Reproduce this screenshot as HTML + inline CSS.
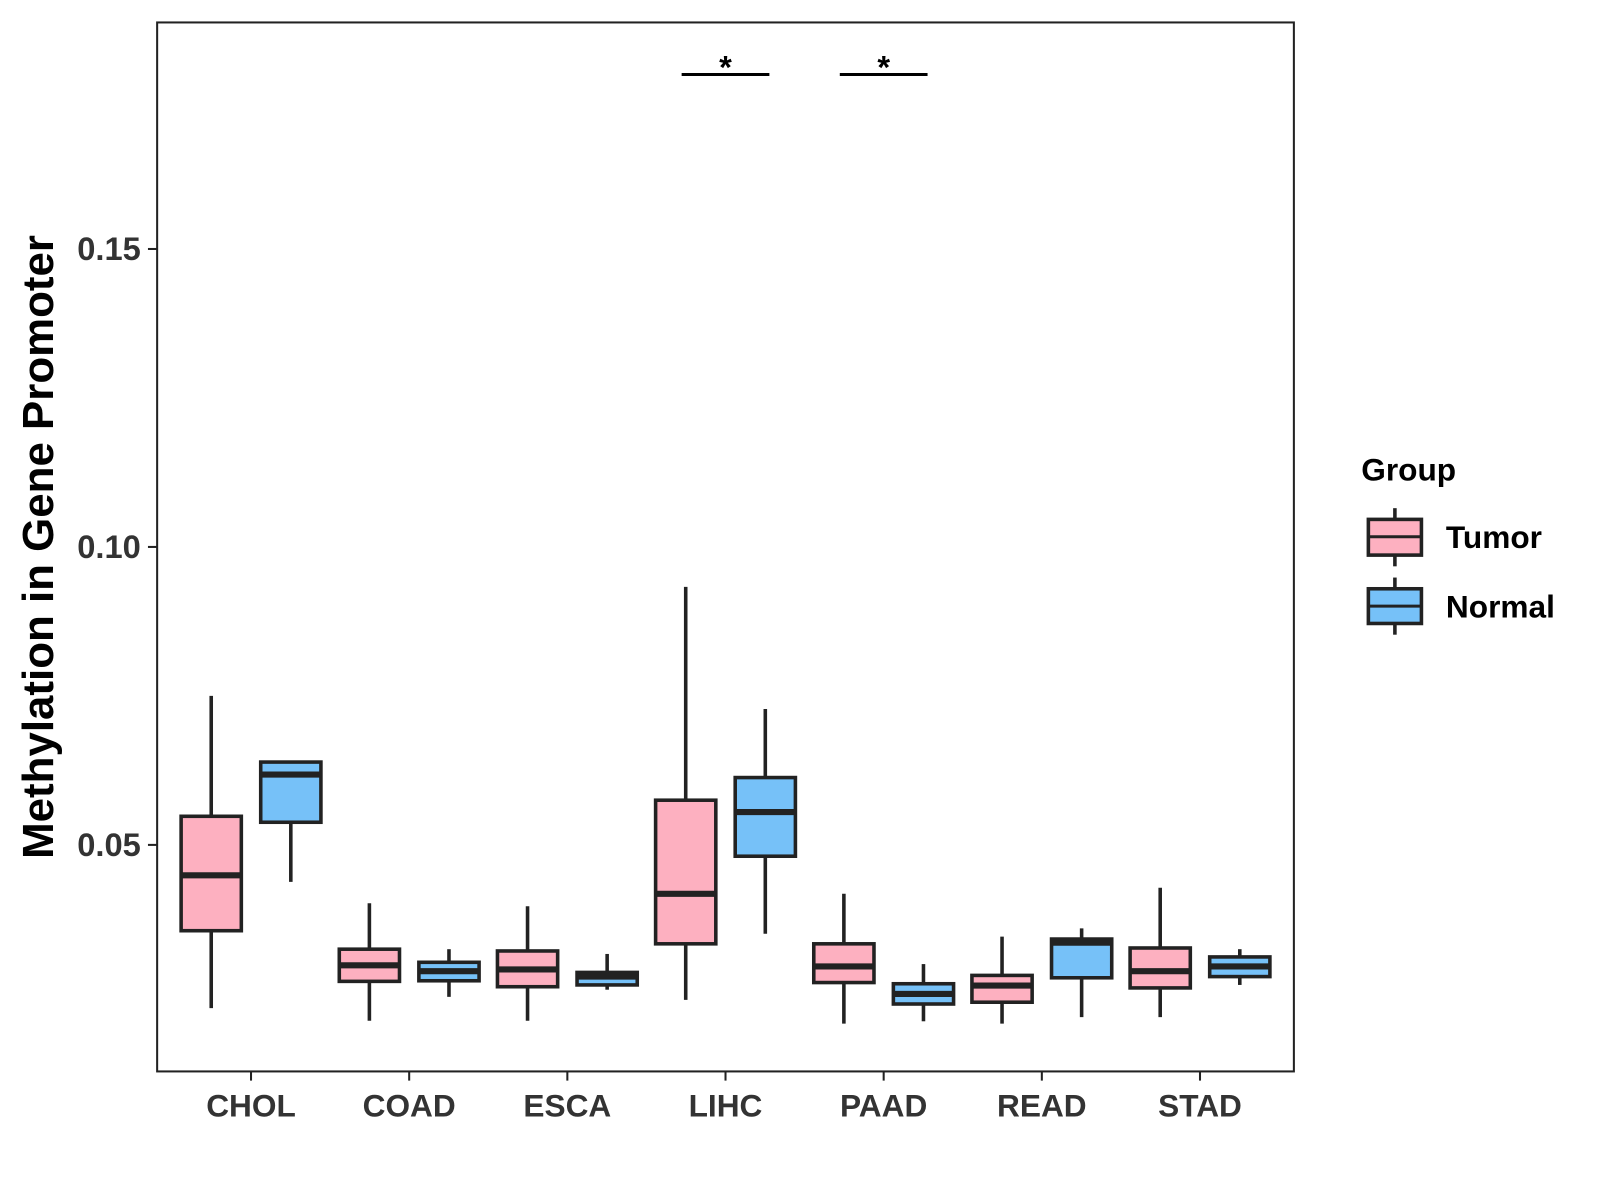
<!DOCTYPE html>
<html><head><meta charset="utf-8"><style>
body{margin:0;background:#fff;}
svg{display:block;font-family:"Liberation Sans",Arial,sans-serif;font-weight:bold;}
</style></head><body>
<svg id="chart" width="1600" height="1200" viewBox="0 0 1568 1176">
<rect x="0" y="0" width="1568" height="1176" fill="#fff"/>
<g id="marks"></g>
<rect x="154" y="22" width="1114" height="1028" fill="none" stroke="#222" stroke-width="2"/>
<g id="axes"></g>
<text x="52" y="536" transform="rotate(-90 52 536)" text-anchor="middle" font-size="43" fill="#000">Methylation in Gene Promoter</text>
<g>
<text x="1334" y="471" font-size="31" fill="#000">Group</text>
<g>
<line x1="1367" y1="498" x2="1367" y2="555" stroke="#222" stroke-width="3.5"/>
<rect x="1341" y="509" width="52" height="35" fill="#FDB0C0" stroke="#222" stroke-width="3.5"/>
<line x1="1341" y1="526" x2="1393" y2="526" stroke="#222" stroke-width="3"/>
<text x="1417" y="537" font-size="31" fill="#000">Tumor</text></g>
<g>
<line x1="1367" y1="566" x2="1367" y2="622" stroke="#222" stroke-width="3.5"/>
<rect x="1341" y="577" width="52" height="34" fill="#76C1F8" stroke="#222" stroke-width="3.5"/>
<line x1="1341" y1="594" x2="1393" y2="594" stroke="#222" stroke-width="3"/>
<text x="1417" y="605" font-size="31" fill="#000">Normal</text></g>
</g>
</svg>
<script>
const categories=["CHOL","COAD","ESCA","LIHC","PAAD","READ","STAD"];
const tumorStats=[
[0.0226,0.0356,0.0449,0.0548,0.0750],
[0.0205,0.0271,0.0298,0.0325,0.0402],
[0.0205,0.0262,0.0291,0.0322,0.0397],
[0.0240,0.0334,0.0418,0.0575,0.0933],
[0.0200,0.0269,0.0296,0.0334,0.0418],
[0.0200,0.0236,0.0264,0.0281,0.0346],
[0.0211,0.0260,0.0288,0.0327,0.0428]];
const normalStats=[
[0.0438,0.0538,0.0618,0.0639,0.0639],
[0.0245,0.0272,0.0288,0.0303,0.0325],
[0.0257,0.0265,0.0279,0.0286,0.0317],
[0.0351,0.0481,0.0555,0.0613,0.0728],
[0.0204,0.0233,0.0250,0.0267,0.0300],
[0.0211,0.0277,0.0336,0.0342,0.0360],
[0.0265,0.0279,0.0296,0.0312,0.0325]];
const yTicks=[0.05,0.10,0.15];
const yTickLabels=["0.05","0.10","0.15"];
const significant=["LIHC","PAAD"];
const NS="http://www.w3.org/2000/svg";
function y(v){return 828-(v-0.05)*5840;}
function xc(i){return 246+i*155;}
function mk(tag,attrs,parent){const e=document.createElementNS(NS,tag);for(const k in attrs)e.setAttribute(k,attrs[k]);parent.appendChild(e);return e;}
const marks=document.getElementById('marks'),axes=document.getElementById('axes');
function box(s,cx,fill,name){
  const g=mk('g',{},marks);
  
  
  mk('line',{x1:cx,x2:cx,y1:y(s[4]),y2:y(s[0]),stroke:'#222','stroke-width':3.5},g);
  mk('rect',{x:cx-29.5,width:59,y:y(s[3]),height:y(s[1])-y(s[3]),fill:fill,stroke:'#222','stroke-width':3.5},g);
  mk('line',{x1:cx-29.5,x2:cx+29.5,y1:y(s[2]),y2:y(s[2]),stroke:'#222','stroke-width':6},g);
}
categories.forEach((c,i)=>{
  box(tumorStats[i],xc(i)-39,'#FDB0C0','box-tumor-'+c.toLowerCase());
  box(normalStats[i],xc(i)+39,'#76C1F8','box-normal-'+c.toLowerCase());
  mk('line',{x1:xc(i),x2:xc(i),y1:1050,y2:1059,stroke:'#222','stroke-width':2},axes);
  const t=mk('text',{x:xc(i),y:1094,'text-anchor':'middle','font-size':31,fill:'#333'},axes);
  
  
  t.textContent=c;
  if(significant.includes(c)){
    const g=mk('g',{},marks);
    
    
    mk('line',{x1:xc(i)-43,x2:xc(i)+43,y1:73,y2:73,stroke:'#000','stroke-width':3},g);
    const s=mk('text',{x:xc(i),y:77,'text-anchor':'middle','font-size':32,fill:'#000'},g);
    s.textContent='*';
  }
});
yTicks.forEach((v,i)=>{
  mk('line',{x1:145,x2:154,y1:y(v),y2:y(v),stroke:'#222','stroke-width':2},axes);
  const t=mk('text',{x:138,y:y(v)+11,'text-anchor':'end','font-size':32,fill:'#333'},axes);
  
  
  t.textContent=yTickLabels[i];
});
</script>
</body></html>
